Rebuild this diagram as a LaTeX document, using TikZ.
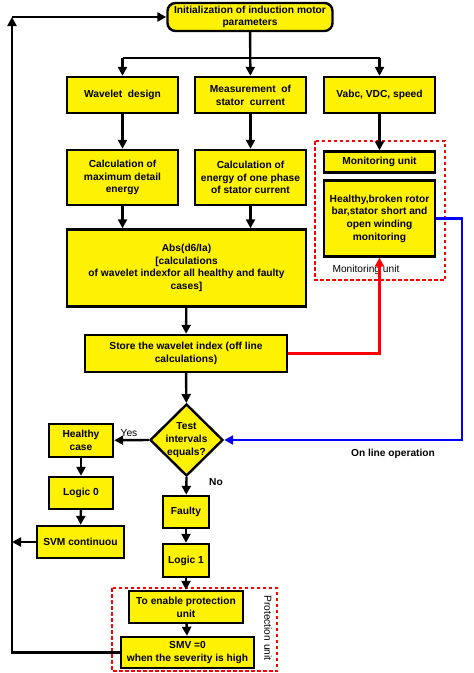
\documentclass[tikz,border=0pt]{standalone}
\usepackage{fontspec}
\setmainfont{Liberation Sans}
\usetikzlibrary{arrows.meta,shapes.geometric}

\tikzset{
  box/.style={draw,fill=yellow,line width=2.4pt,align=center,inner sep=1pt,
    font=\bfseries\fontsize{10.2}{12.7}\selectfont},
  decision/.style={draw,fill=yellow,line width=2.4pt,diamond,inner sep=0pt,
    minimum width=73pt,minimum height=72pt},
  lbl/.style={font=\fontsize{10.2}{12.7}\selectfont,inner sep=1pt},
  arr/.style={line width=2.4pt,-{Triangle[length=9pt,width=9pt]}},
  unitbox/.style={draw=red,line width=2.2pt,dash pattern=on 3.5pt off 2.5pt}
}

\begin{document}
\begin{tikzpicture}[x=1pt,y=-1pt,line width=2.4pt]
  \useasboundingbox (0,0) rectangle (474,673);
  % dashed units
  \draw [unitbox] (315,141) rectangle (445,280);
  \draw [unitbox] (112,588) rectangle (277,671);
  % boxes
  \node [box,rounded corners=8pt,minimum width=165pt,minimum height=28pt] (init) at (250,17) {Initialization of induction motor\\parameters};
  \node [box,minimum width=111pt,minimum height=36pt] (wavelet) at (122.5,95) {Wavelet\ \ design};
  \node [box,minimum width=111pt,minimum height=36pt] (measure) at (250.5,95) {Measurement\ \ of\\stator\ \ current};
  \node [box,minimum width=111pt,minimum height=36pt] (vabc) at (379.5,95) {Vabc, VDC, speed};
  \node [box,minimum width=111pt,minimum height=55pt] (calcmax) at (122.5,177.5) {Calculation of\\maximum detail\\energy};
  \node [box,minimum width=111pt,minimum height=55pt] (calcenergy) at (250.5,177.5) {Calculation of\\energy of one phase\\of stator current};
  \node [box,minimum width=111pt,minimum height=21pt] (monitor) at (379.5,162) {Monitoring unit};
  \node [box,minimum width=111pt,minimum height=76pt] (hbroken) at (379.5,218.5) {Healthy,broken rotor\\bar,stator short and\\open winding\\monitoring};
  \node [box,minimum width=239pt,minimum height=77pt] (abs) at (186.5,268) {Abs(d6/Ia)\\{[calculations}\\of wavelet indexfor all healthy and faulty\\cases]};
  \node [box,minimum width=202pt,minimum height=37pt] (store) at (186,353.5) {Store the wavelet index (off line\\calculations)};
  \node [decision] (test) at (186.5,440) {};
  \node [box,draw=none,fill=none] (testtxt) at (test) {Test\\intervals\\equals?};
  \node [box,minimum width=64pt,minimum height=33pt] (hcase) at (81,440.5) {Healthy\\case};
  \node [box,minimum width=64pt,minimum height=32pt] (logic0) at (81,493) {Logic 0};
  \node [box,minimum width=87pt,minimum height=32pt] (svm) at (80.5,542) {SVM continuou};
  \node [box,minimum width=46pt,minimum height=32pt] (faulty) at (186,512) {Faulty};
  \node [box,minimum width=46pt,minimum height=33pt] (logic1) at (186,560.5) {Logic 1};
  \node [box,minimum width=114pt,minimum height=32pt] (enable) at (186,607) {To enable protection\\unit};
  \node [box,minimum width=133pt,minimum height=31pt] (smv) at (187.5,652.5) {SMV =0\\when the severity is high};
  % labels
  \node [lbl] (monlbl) at (366,270) {Monitoring unit};
  \node [lbl,font=\bfseries\fontsize{10.2}{12.7}\selectfont] (online) at (393,454) {On line operation};
  \node [lbl,rotate=-90] (protlbl) at (268,628) {Protection unit};
  \node [lbl] (yes) at (129,433) {Yes};
  \node [lbl,font=\bfseries\fontsize{10.2}{12.7}\selectfont] (no) at (216,482) {No};
  % helper points
  \coordinate (sl) at (122.5,58);
  \coordinate (sr) at (379.5,58);
  \coordinate (lsvm) at (12,542);
  \coordinate (ltop) at (12,17);
  \coordinate (bl) at (462,218.5);
  % connectors
  \draw [arr] (init) -- (measure);
  \draw (sl) -- (sr);
  \draw [arr] (sl) -- (wavelet);
  \draw [arr] (sr) -- (vabc);
  \draw [arr] (wavelet) -- (calcmax);
  \draw [arr] (measure) -- (calcenergy);
  \draw [arr] (vabc) -- (monitor);
  \draw [arr] (calcmax) -- (calcmax |- abs.north);
  \draw [arr] (calcenergy) -- (calcenergy |- abs.north);
  \draw [arr] (abs) -- (store);
  \draw [arr] (store) -- (test);
  \draw [arr,red] (store.east) -| (hbroken.south);
  \draw [arr,blue] (hbroken.east) -- (bl) |- (test.east);
  \draw [arr] (test.west) -- (hcase);
  \draw [arr] (hcase) -- (logic0);
  \draw [arr] (logic0) -- (svm);
  \draw [arr] (svm.west) -- (lsvm);
  \draw [arr] (test.south) -- (faulty);
  \draw [arr] (faulty) -- (logic1);
  \draw [arr] (logic1) -- (enable);
  \draw [arr] (enable) -- (smv);
  \draw [arr] (smv.west) -| (ltop);
  \draw [arr] (ltop) -- (init.west);
\end{tikzpicture}
\end{document}
